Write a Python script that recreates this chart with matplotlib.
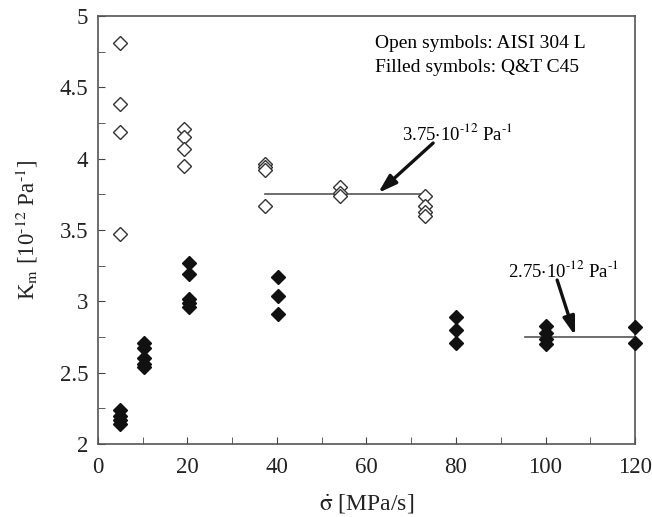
import matplotlib
matplotlib.use("Agg")
import matplotlib.pyplot as plt
from matplotlib.ticker import MultipleLocator

plt.rcParams['font.family'] = ['Liberation Serif', 'DejaVu Serif']
plt.rcParams['mathtext.fontset'] = 'stix'

# open symbols: AISI 304 L
open_x = [5, 5, 5, 5, 19.2, 19.2, 19.2, 19.2, 37.3, 37.3, 37.3, 37.3,
          54.2, 54.2, 54.2, 73, 73, 73, 73]
open_y = [4.81, 4.38, 4.19, 3.47, 4.21, 4.15, 4.07, 3.95, 3.96, 3.94, 3.92, 3.67,
          3.80, 3.76, 3.74, 3.74, 3.67, 3.63, 3.60]
# filled symbols: Q&T C45
fill_x = [5, 5, 5, 5, 10.3, 10.3, 10.3, 10.3, 10.3, 20.3, 20.3, 20.3, 20.3, 20.3,
          40.2, 40.2, 40.2, 80, 80, 80, 100, 100, 100, 100, 120, 120]
fill_y = [2.24, 2.20, 2.17, 2.14, 2.71, 2.67, 2.60, 2.56, 2.54, 3.27, 3.19, 3.02, 2.99, 2.96,
          3.17, 3.04, 2.91, 2.89, 2.80, 2.71, 2.83, 2.78, 2.74, 2.70, 2.82, 2.71]

# mean lines
line1_x = [37.3, 73]
line1_y = [3.75, 3.75]
line2_x = [95.4, 120]
line2_y = [2.75, 2.75]

fig = plt.figure(figsize=(6.52, 5.17), dpi=100)
ax = fig.add_axes([0.150, 0.141, 0.824, 0.828])

ax.plot(line1_x, line1_y, color='#555555', lw=1.2, zorder=1)
ax.plot(line2_x, line2_y, color='#555555', lw=1.2, zorder=1)
ax.plot(open_x, open_y, 'D', ms=7, mfc='white', mec='#333333', mew=1.0, ls='none', zorder=3, clip_on=False)
ax.plot(fill_x, fill_y, 'D', ms=7.5, mfc='#111111', mec='#111111', ls='none', zorder=3, clip_on=False)

arrow = dict(arrowstyle='-|>,head_length=1.1,head_width=0.35', color='#111111', lw=2.4,
             shrinkA=0, shrinkB=0)
ax.annotate('', xy=(62.6, 3.76), xytext=(74.9, 4.11), arrowprops=arrow)
ax.text(67.9, 4.18, r'3.75$\cdot$10$^{\text{-12}}$ Pa$^{\text{-1}}$', fontsize=13.5, va='center', ha='left')
ax.annotate('', xy=(106.6, 2.76), xytext=(102.6, 3.15), arrowprops=arrow)
ax.text(91.6, 3.22, r'2.75$\cdot$10$^{\text{-12}}$ Pa$^{\text{-1}}$', fontsize=13.5, va='center', ha='left')

ax.text(62.0, 4.81, 'Open symbols: AISI 304 L', fontsize=14, va='center', ha='left')
ax.text(62.0, 4.64, 'Filled symbols: Q&T C45', fontsize=14, va='center', ha='left')

ax.set_xlim(0, 120)
ax.set_ylim(2, 5)
ax.xaxis.set_major_locator(MultipleLocator(20))
ax.xaxis.set_minor_locator(MultipleLocator(10))
ax.yaxis.set_major_locator(MultipleLocator(0.5))
ax.yaxis.set_minor_locator(MultipleLocator(0.25))
ax.set_yticks([2, 2.5, 3, 3.5, 4, 4.5, 5])
ax.set_yticklabels(['2', '2.5', '3', '3.5', '4', '4.5', '5'])
ax.tick_params(which='both', direction='in', top=False, right=False, colors='#444444',
               labelcolor='#222222', labelsize=16.5, length=5)
ax.tick_params(axis='x', pad=9)
ax.tick_params(axis='y', pad=7)
for s in ax.spines.values():
    s.set_color('#555555')
    s.set_linewidth(1.2)

ax.set_xlabel(r'$\dot{\mathrm{\sigma}}$ [MPa/s]', fontsize=17, color='#222222', labelpad=11)
ax.set_ylabel(r'K$_\mathrm{m}$ [10$^{\text{-12}}$ Pa$^{\text{-1}}$]', fontsize=16.5, color='#222222', labelpad=14)

fig.savefig('out.png', dpi=100)
